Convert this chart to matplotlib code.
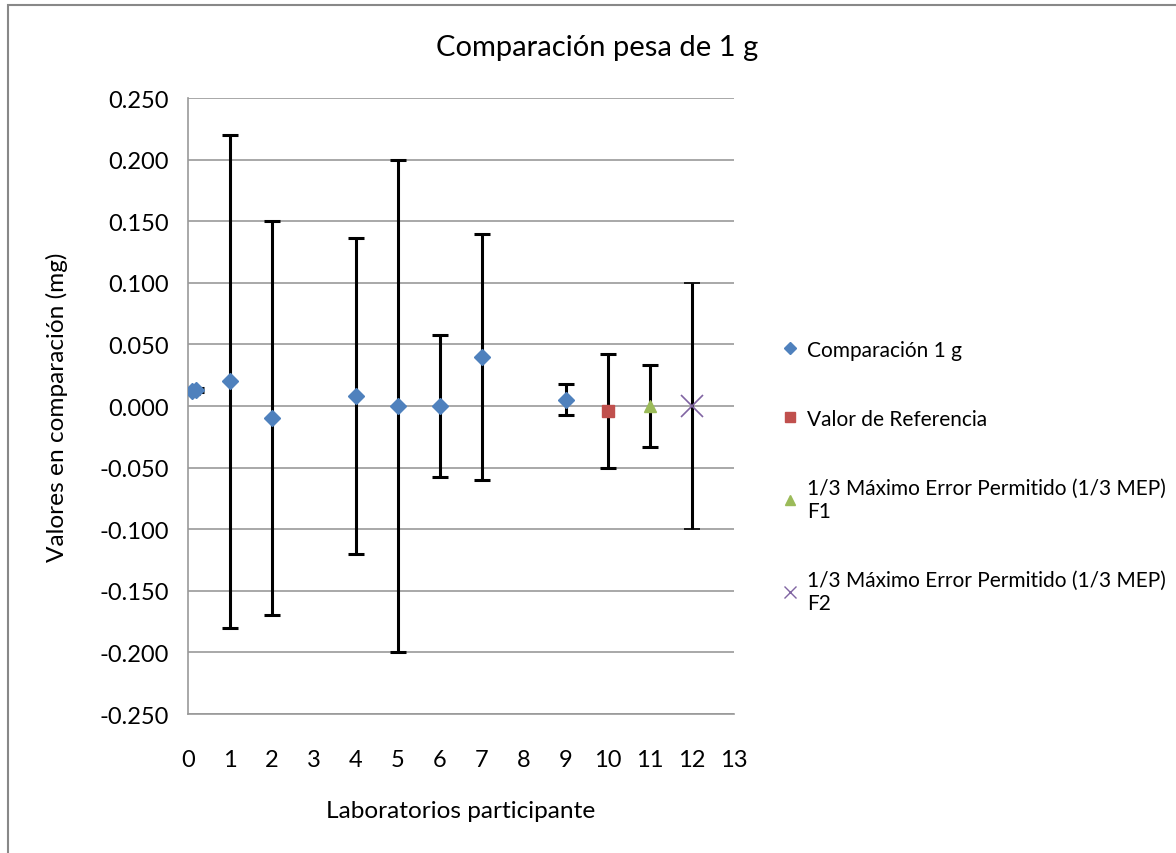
import matplotlib
matplotlib.use("Agg")
import matplotlib.pyplot as plt
import numpy as np
from matplotlib.patches import Rectangle
from matplotlib.ticker import FuncFormatter

plt.rcParams['font.family'] = ['Lato', 'DejaVu Sans']

# laboratorios (serie principal)
lab_x = [0.1, 0.2, 1, 2, 4, 5, 6, 7, 9]
lab_y = [0.012, 0.013, 0.02, -0.01, 0.008, 0.0, 0.0, 0.04, 0.005]
lab_err = [0.002, 0.002, 0.2, 0.16, 0.128, 0.2, 0.058, 0.1, 0.0125]

ref_x = [10]
ref_y = [-0.004]
ref_err = [0.0465]

mep1_x = [11]
mep1_y = [0.0]
mep1_err = [0.033]

mep2_x = [12]
mep2_y = [0.0]
mep2_err = [0.1]

labels = ["Comparación 1 g", "Valor de Referencia",
          "1/3 Máximo Error Permitido (1/3 MEP)\nF1",
          "1/3 Máximo Error Permitido (1/3 MEP)\nF2"]

fig = plt.figure(figsize=(11.76, 8.54), dpi=100)
ax = fig.add_axes([188/1176, 1-715/854, (734-188)/1176, (715-99)/854])

# borde del grafico (solo izquierda y arriba visibles)
fig.patches.append(Rectangle((8/1176, -0.1), 1.2, 1-6/854+0.1, transform=fig.transFigure,
                             fill=False, edgecolor='#888888', linewidth=1.5))

ebkw = dict(ecolor='black', elinewidth=2.2, capsize=5.5, capthick=2.2, linestyle='none')

h1 = ax.errorbar(lab_x, lab_y, yerr=lab_err, marker='D', markersize=8.5,
                 color='#4F81BD', **ebkw)
h2 = ax.errorbar(ref_x, ref_y, yerr=ref_err, marker='s', markersize=9,
                 color='#C0504D', **ebkw)
h3 = ax.errorbar(mep1_x, mep1_y, yerr=mep1_err, marker='^', markersize=9,
                 color='#9BBB59', **ebkw)
h4 = ax.errorbar(mep2_x, mep2_y, yerr=mep2_err, marker='x', markersize=16,
                 markeredgewidth=1.2, color='#8064A2', **ebkw)
for h in (h1, h2, h3, h4):
    h[0].set_zorder(5)


def fmt(v, pos):
    if abs(v) < 1e-9:
        v = 0.0
    return "%.3f" % v


ax.set_xlim(0, 13)
ax.set_ylim(-0.25, 0.25)
ax.set_xticks(np.arange(0, 14, 1))
ax.set_yticks(np.arange(-0.25, 0.2501, 0.05))
ax.yaxis.set_major_formatter(FuncFormatter(fmt))
ax.tick_params(axis='both', length=0, labelsize=17)
ax.tick_params(axis='x', pad=25)
ax.tick_params(axis='y', pad=14)
ax.grid(axis='y', color='#999999', linewidth=1.2)
ax.set_axisbelow(True)
for s in ('top', 'right'):
    ax.spines[s].set_visible(False)
for s in ('left', 'bottom'):
    ax.spines[s].set_color('#999999')
    ax.spines[s].set_linewidth(1.2)

fig.text(597/1176, 1-48/854, "Comparación pesa de 1 g", fontsize=21,
         ha='center', va='center')
ax.set_xlabel("Laboratorios participante", fontsize=17.6, labelpad=22)
ax.set_ylabel("Valores en comparación (mg)", fontsize=17.6, labelpad=22)

leg_handles = [
    plt.Line2D([], [], marker='D', color='#4F81BD', linestyle='none', markersize=6),
    plt.Line2D([], [], marker='s', color='#C0504D', linestyle='none', markersize=7),
    plt.Line2D([], [], marker='^', color='#9BBB59', linestyle='none', markersize=7),
    plt.Line2D([], [], marker='x', color='#8064A2', linestyle='none', markersize=8),
]
fig.legend(leg_handles, labels, loc='upper left', bbox_to_anchor=(763/1176, 1-322/854),
           frameon=False, fontsize=15, labelspacing=2.35, handlelength=0.8,
           handletextpad=0.4, alignment='left')

fig.savefig("out.png", dpi=100)
